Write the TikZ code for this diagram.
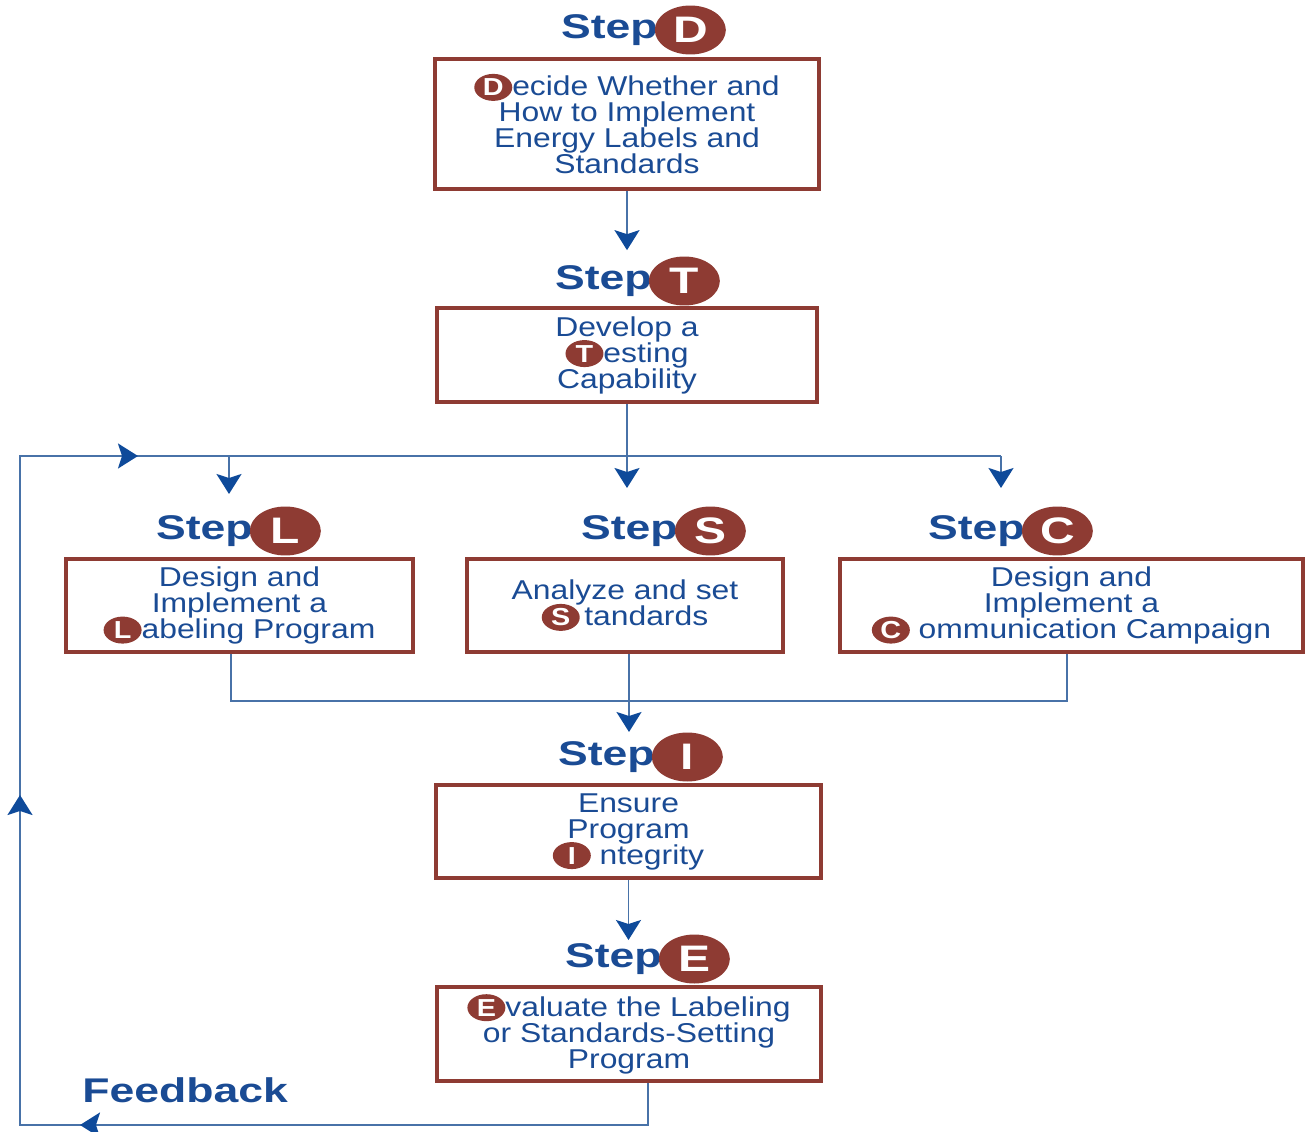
\documentclass[tikz,border=0pt]{standalone}
\usepackage{fontspec}
\setmainfont{Liberation Sans}
\newfontfamily\bodyfont[FakeStretch=1.17]{Liberation Sans}
\newfontfamily\stepfont[FakeStretch=1.3]{Liberation Sans}
\usetikzlibrary{positioning,shapes.geometric,arrows.meta}

\definecolor{stepblue}{HTML}{1A4B94}
\definecolor{boxred}{HTML}{8E3B33}
\definecolor{wireblue}{HTML}{4872A8}
\definecolor{tipblue}{HTML}{0E4A9A}

\newcommand{\bodytext}{\bodyfont\fontsize{15.5pt}{14.8pt}\selectfont\lineskiplimit=-20pt\lineskip=0pt}
\newcommand{\steptext}{\stepfont\bfseries\fontsize{19.5pt}{20pt}\selectfont}
\newcommand{\ini}[1]{\tikz[baseline=(i.base)]\node[initial](i){#1};}

\tikzset{
    stepbox/.style={draw=boxred, line width=2.3pt, inner sep=0pt, align=center, text=stepblue, font=\bodytext},
    stephead/.style={inner sep=0pt, text=stepblue, font=\steptext, anchor=east},
    stepmark/.style={ellipse, draw=none, fill=boxred, text=white, inner sep=0pt, minimum width=1.42cm, minimum height=0.98cm, font=\stepfont\bfseries\fontsize{21pt}{21pt}\selectfont},
    initial/.style={ellipse, draw=none, fill=boxred, text=white, inner sep=0pt, minimum width=0.76cm, minimum height=0.54cm, font=\bodyfont\bfseries\fontsize{14pt}{14pt}\selectfont},
    wire/.style={draw=wireblue, line width=1.1pt},
    arrow/.style={wire, -{Stealth[length=0.4cm,width=0.5cm,inset=0.08cm,color=tipblue]}}
}

\begin{document}
\begin{tikzpicture}[x=0.02cm, y=-0.02cm]
    \useasboundingbox (0,0) rectangle (1305,1132);

    % Draw the step headings
    \node[stephead] (sD) at (658,30) {Step};
    \node[stepmark, right=-2pt of sD] (mD) {D};
    \node[stephead] (sT) at (652,281) {Step};
    \node[stepmark, right=-2pt of sT] (mT) {T};
    \node[stephead] (sL) at (253,531) {Step};
    \node[stepmark, right=-2pt of sL] (mL) {L};
    \node[stephead] (sS) at (678,531) {Step};
    \node[stepmark, right=-2pt of sS] (mS) {S};
    \node[stephead] (sC) at (1025,531) {Step};
    \node[stepmark, right=-2pt of sC] (mC) {C};
    \node[stephead] (sI) at (655,757) {Step};
    \node[stepmark, right=-2pt of sI] (mI) {I};
    \node[stephead] (sE) at (662,959) {Step};
    \node[stepmark, right=-2pt of sE] (mE) {E};

    % Draw the boxes
    \node[stepbox, minimum width=7.68cm, minimum height=2.6cm] (D) at (627,124)
        {\ini{D}ecide Whether and\\How to Implement\\Energy Labels and\\Standards};
    \node[stepbox, minimum width=7.6cm, minimum height=1.88cm] (T) at (627,355)
        {Develop a\\\ini{T}esting\\Capability};
    \node[stepbox, minimum width=6.94cm, minimum height=1.86cm] (L) at (239.5,605.5)
        {Design and\\Implement a\\\ini{L}abeling Program};
    \node[stepbox, minimum width=6.32cm, minimum height=1.86cm] (S) at (625,605.5)
        {Analyze and set\\\ini{S}\,tandards};
    \node[stepbox, minimum width=9.26cm, minimum height=1.86cm] (C) at (1071.5,605.5)
        {Design and\\Implement a\\\ini{C} ommunication Campaign};
    \node[stepbox, minimum width=7.7cm, minimum height=1.86cm] (I) at (628.5,831.5)
        {Ensure\\Program\\\ini{I} ntegrity};
    \node[stepbox, minimum width=7.68cm, minimum height=1.88cm] (E) at (629,1034)
        {\ini{E}valuate the Labeling\\or Standards-Setting\\Program};

    \node[stephead, anchor=west] (fb) at (82,1090) {Feedback};

    % Points where the wires turn
    \coordinate (splitl) at (229,456);
    \coordinate (splitc) at (1001,456);
    \coordinate (tipL) at (229,494);
    \coordinate (tipS) at (627,488);
    \coordinate (tipC) at (1001,488);
    \coordinate (joinl) at (231,701);
    \coordinate (joinc) at (1067,701);
    \coordinate (tipI) at (629,732);
    \coordinate (tipE) at (628.5,940);
    \coordinate (fbbr) at (648,1125);
    \coordinate (fbbl) at (20,1125);
    \coordinate (fbtl) at (20,456);
    \coordinate (fbleft) at (80,1125);
    \coordinate (fbup) at (20,795);
    \coordinate (fbright) at (138,456);

    % Draw the wires between the steps
    \draw[arrow, shorten >=0.12cm] (D.south) -- (D.south |- mT.north);
    \draw[arrow] (T.south) -- (tipS);
    \draw[arrow] (splitl) -- (tipL);
    \draw[arrow] (splitc) -- (tipC);
    \draw[wire] (L.south -| joinl) -- (joinl) -- (joinc) -- (C.south -| joinc);
    \draw[arrow] (S.south -| tipI) -- (tipI);
    \draw[arrow] (I.south) -- (tipE);

    % Draw the feedback loop
    \draw[wire] (E.south -| fbbr) -- (fbbr) -- (fbbl) -- (fbtl) -- (splitc);
    \draw[arrow] (fbbr) -- (fbleft);
    \draw[arrow] (fbbl) -- (fbup);
    \draw[arrow] (fbtl) -- (fbright);

\end{tikzpicture}
\end{document}
